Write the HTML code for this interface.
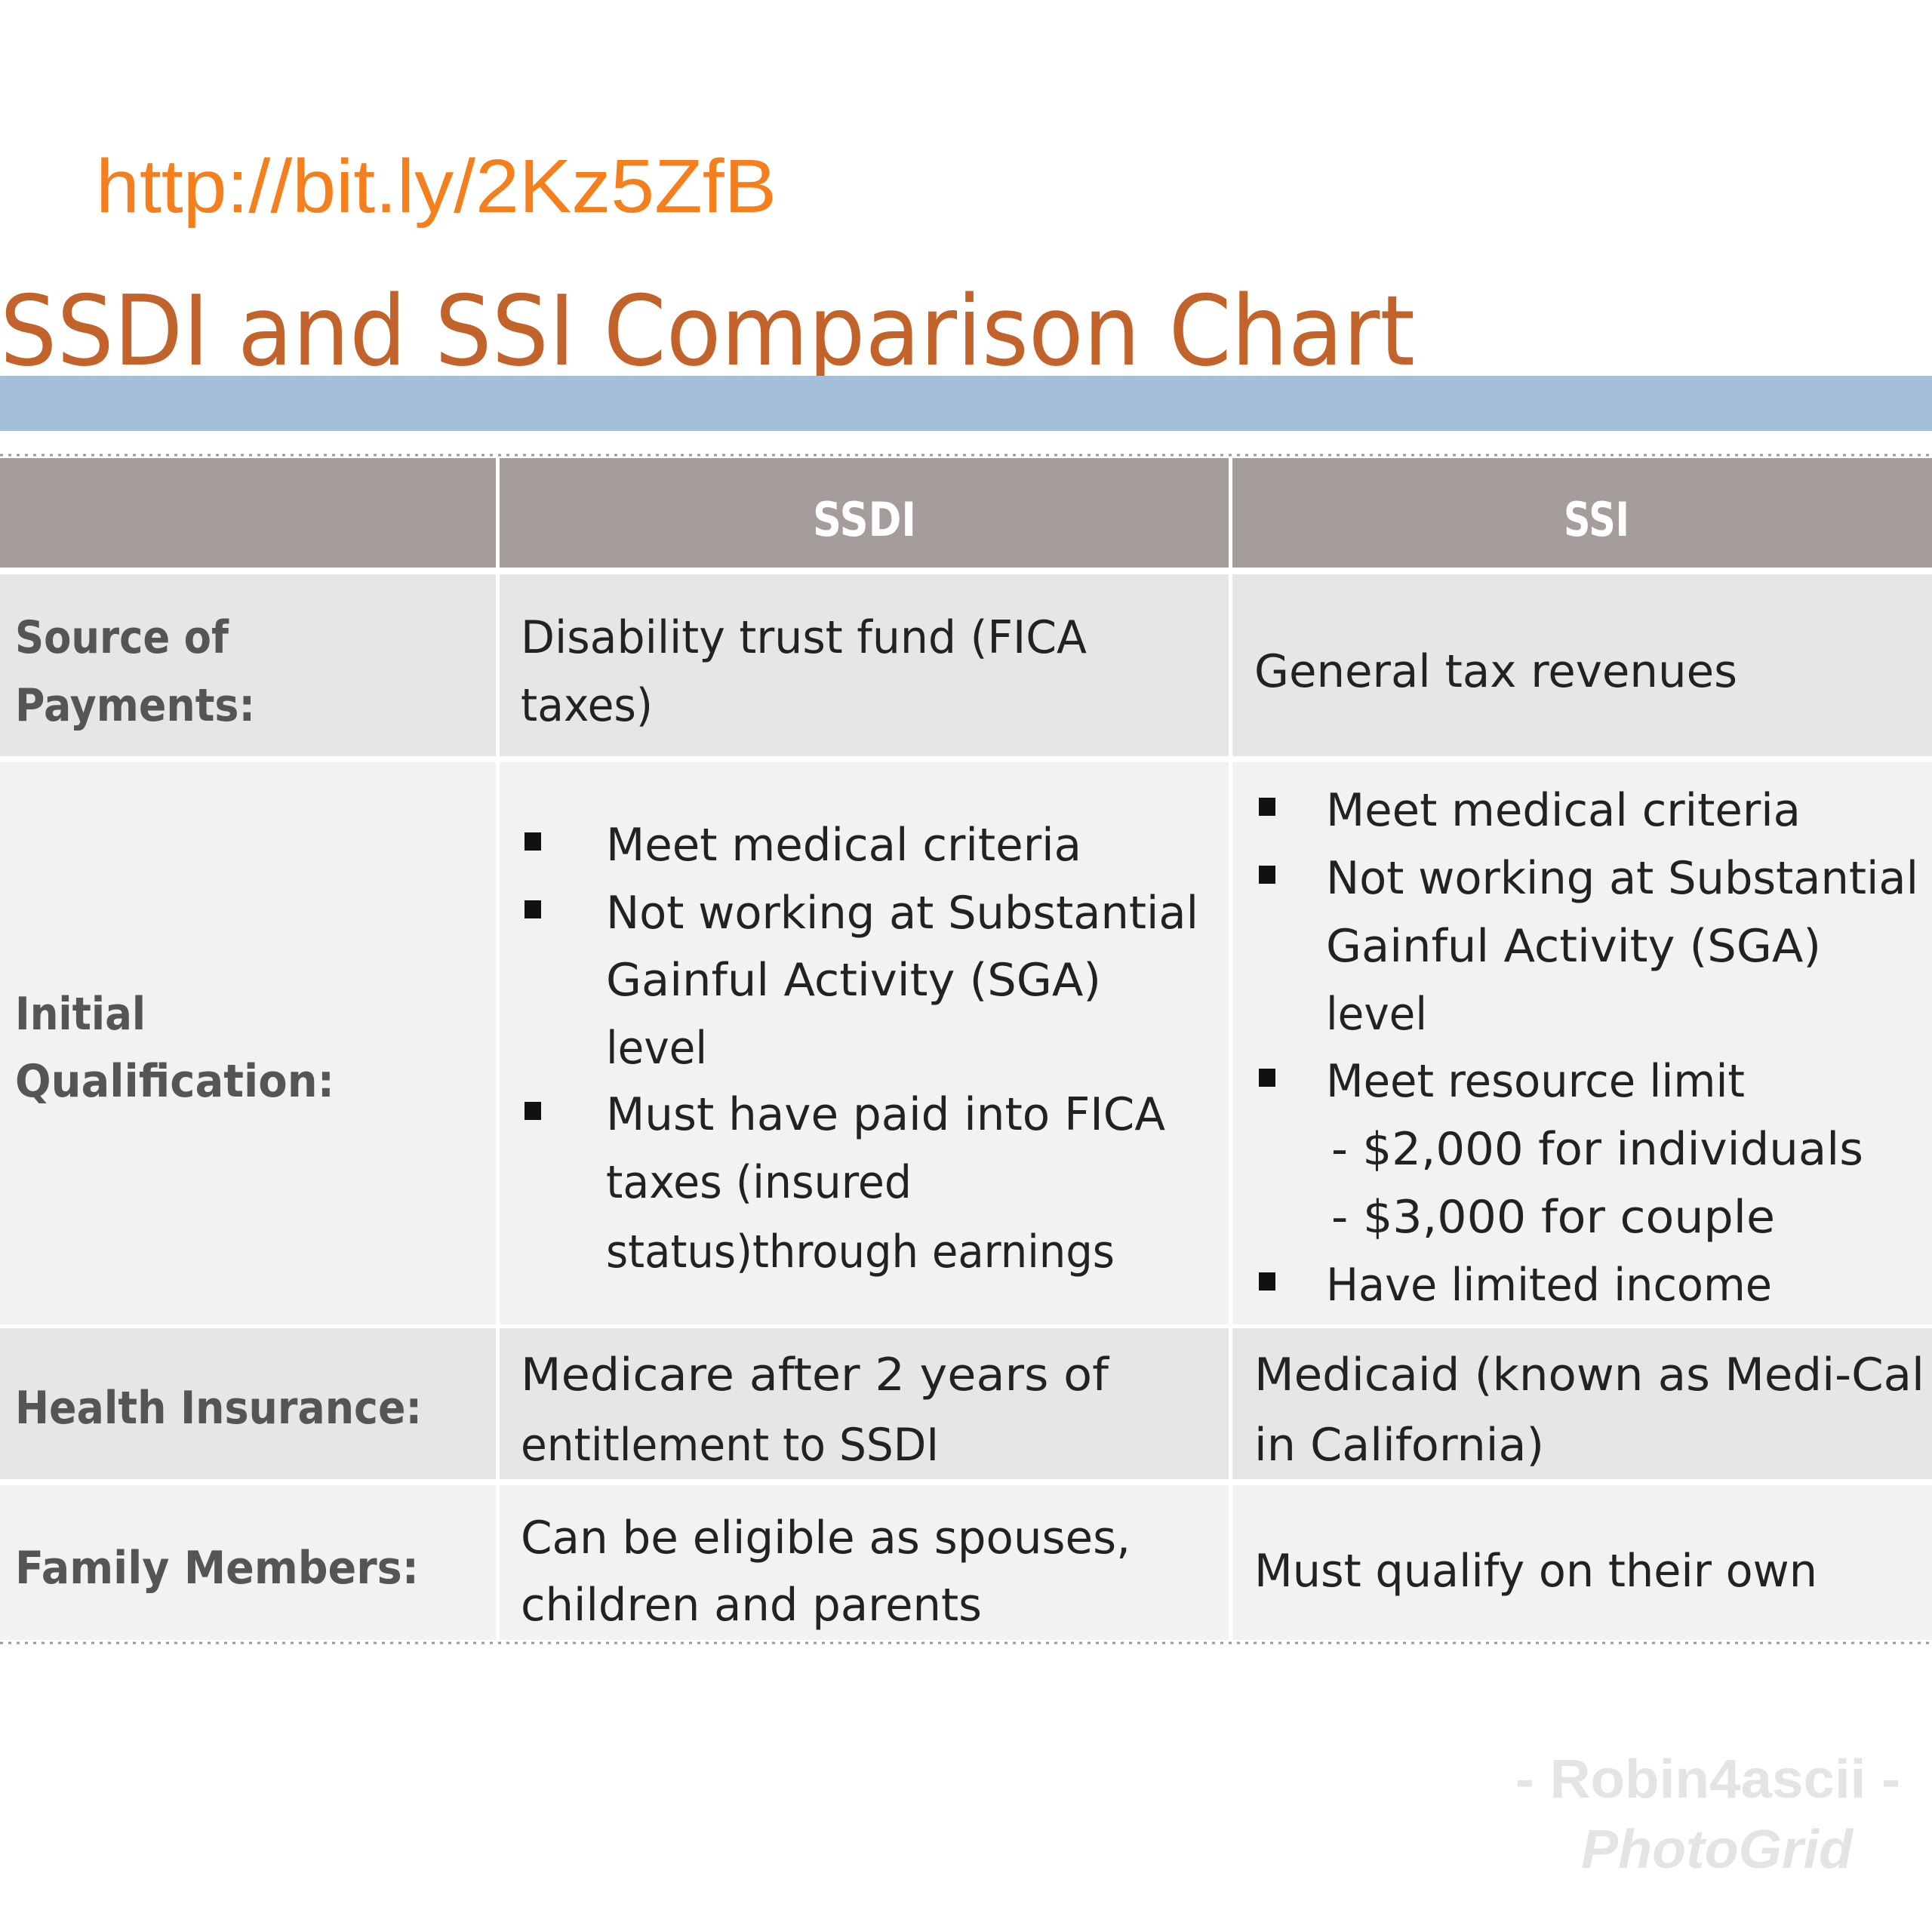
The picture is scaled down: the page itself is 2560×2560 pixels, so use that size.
<!DOCTYPE html>
<html><head><meta charset="utf-8"><style>
html,body{margin:0;padding:0;background:#fff;}
svg{display:block;}
</style></head><body>
<svg width="2560" height="2560" viewBox="0 0 2560 2560" xmlns="http://www.w3.org/2000/svg">
<rect width="2560" height="2560" fill="#fff"/>
<text x="127" y="281" font-family="Liberation Sans, sans-serif" font-size="100" fill="#f47f1c" textLength="902" lengthAdjust="spacingAndGlyphs">http://bit.ly/2Kz5ZfB</text>
<text x="0" y="483" font-family="DejaVu Sans, sans-serif" font-size="128" fill="#c2632b" textLength="1875" lengthAdjust="spacingAndGlyphs">SSDI and SSI Comparison Chart</text>
<rect x="0" y="498" width="2560" height="73" fill="#a3bfd9"/>
<line x1="0" y1="603" x2="2560" y2="603" stroke="#999" stroke-width="3" stroke-dasharray="4,7"/>
<rect x="0" y="607" width="2560" height="145" fill="#a59d9b"/>
<rect x="0" y="761" width="2560" height="241" fill="#e6e6e6"/>
<rect x="0" y="1010" width="2560" height="745" fill="#f2f2f2"/>
<rect x="0" y="1760" width="2560" height="200" fill="#e6e6e6"/>
<rect x="0" y="1968" width="2560" height="205" fill="#f2f2f2"/>
<rect x="657" y="607" width="5" height="1566" fill="#fff"/>
<rect x="1628" y="607" width="5" height="1566" fill="#fff"/>
<line x1="0" y1="2177" x2="2560" y2="2177" stroke="#999" stroke-width="3" stroke-dasharray="4,7"/>
<g font-family="DejaVu Sans, sans-serif" font-weight="bold" font-size="62" fill="#fff">
<text x="1077" y="710" textLength="137" lengthAdjust="spacingAndGlyphs">SSDI</text>
<text x="2072" y="710" textLength="87" lengthAdjust="spacingAndGlyphs">SSI</text>
</g>
<g font-family="DejaVu Sans, sans-serif" font-weight="bold" font-size="60" fill="#555">
<text x="20" y="865" textLength="283" lengthAdjust="spacingAndGlyphs">Source of</text>
<text x="20" y="955" textLength="318" lengthAdjust="spacingAndGlyphs">Payments:</text>
<text x="20" y="1364" textLength="173" lengthAdjust="spacingAndGlyphs">Initial</text>
<text x="20" y="1453" textLength="423" lengthAdjust="spacingAndGlyphs">Qualification:</text>
<text x="20" y="1886" textLength="539" lengthAdjust="spacingAndGlyphs">Health Insurance:</text>
<text x="20" y="2098" textLength="535" lengthAdjust="spacingAndGlyphs">Family Members:</text>
</g>
<g font-family="DejaVu Sans, sans-serif" font-size="60" fill="#222">
<text x="690" y="865" textLength="750" lengthAdjust="spacingAndGlyphs">Disability trust fund (FICA</text>
<text x="690" y="955" textLength="175" lengthAdjust="spacingAndGlyphs">taxes)</text>
<text x="1662" y="910" textLength="640" lengthAdjust="spacingAndGlyphs">General tax revenues</text>
<text x="803" y="1140" textLength="630" lengthAdjust="spacingAndGlyphs">Meet medical criteria</text>
<text x="803" y="1230" textLength="785" lengthAdjust="spacingAndGlyphs">Not working at Substantial</text>
<text x="803" y="1319" textLength="656" lengthAdjust="spacingAndGlyphs">Gainful Activity (SGA)</text>
<text x="803" y="1409" textLength="134" lengthAdjust="spacingAndGlyphs">level</text>
<text x="803" y="1497" textLength="741" lengthAdjust="spacingAndGlyphs">Must have paid into FICA</text>
<text x="803" y="1587" textLength="405" lengthAdjust="spacingAndGlyphs">taxes (insured</text>
<text x="803" y="1679" textLength="674" lengthAdjust="spacingAndGlyphs">status)through earnings</text>
<text x="1757" y="1094" textLength="629" lengthAdjust="spacingAndGlyphs">Meet medical criteria</text>
<text x="1757" y="1184" textLength="785" lengthAdjust="spacingAndGlyphs">Not working at Substantial</text>
<text x="1757" y="1274" textLength="656" lengthAdjust="spacingAndGlyphs">Gainful Activity (SGA)</text>
<text x="1757" y="1364" textLength="134" lengthAdjust="spacingAndGlyphs">level</text>
<text x="1757" y="1453" textLength="555" lengthAdjust="spacingAndGlyphs">Meet resource limit</text>
<text x="1764" y="1543" textLength="705" lengthAdjust="spacingAndGlyphs">- $2,000 for individuals</text>
<text x="1764" y="1633" textLength="588" lengthAdjust="spacingAndGlyphs">- $3,000 for couple</text>
<text x="1757" y="1723" textLength="591" lengthAdjust="spacingAndGlyphs">Have limited income</text>
<text x="690" y="1842" textLength="779" lengthAdjust="spacingAndGlyphs">Medicare after 2 years of</text>
<text x="690" y="1935" textLength="554" lengthAdjust="spacingAndGlyphs">entitlement to SSDI</text>
<text x="1662" y="1842" textLength="888" lengthAdjust="spacingAndGlyphs">Medicaid (known as Medi-Cal</text>
<text x="1662" y="1935" textLength="384" lengthAdjust="spacingAndGlyphs">in California)</text>
<text x="690" y="2058" textLength="808" lengthAdjust="spacingAndGlyphs">Can be eligible as spouses,</text>
<text x="690" y="2147" textLength="611" lengthAdjust="spacingAndGlyphs">children and parents</text>
<text x="1662" y="2102" textLength="746" lengthAdjust="spacingAndGlyphs">Must qualify on their own</text>
</g>
<g fill="#111">
<rect x="695" y="1103" width="22" height="24"/>
<rect x="695" y="1193" width="22" height="24"/>
<rect x="695" y="1460" width="22" height="24"/>
<rect x="1668" y="1057" width="22" height="24"/>
<rect x="1668" y="1147" width="22" height="24"/>
<rect x="1668" y="1416" width="22" height="24"/>
<rect x="1668" y="1686" width="22" height="24"/>
</g>
<g font-family="Liberation Sans, sans-serif" font-weight="bold" fill="#e4e4e4">
<text x="2008" y="2382" font-size="72" textLength="510" lengthAdjust="spacingAndGlyphs">- Robin4ascii -</text>
<text x="2095" y="2475" font-size="72" font-style="italic" textLength="360" lengthAdjust="spacingAndGlyphs">PhotoGrid</text>
</g>
</svg>
</body></html>
